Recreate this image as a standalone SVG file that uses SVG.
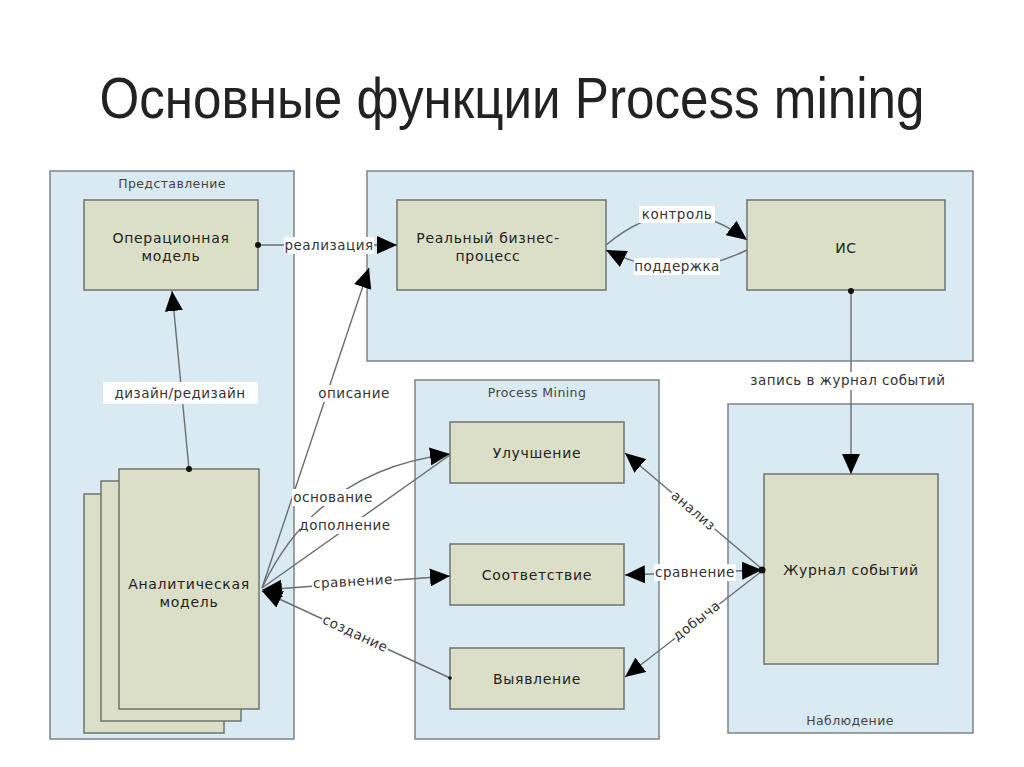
<svg xmlns="http://www.w3.org/2000/svg" width="1024" height="767" viewBox="0 0 1024 767">
<style>
.cont{fill:#daeaf2;stroke:#7d8487;stroke-width:1.5}
.box{fill:#dcdfc7;stroke:#6f7470;stroke-width:1.5}
.bt{font-family:"DejaVu Sans",sans-serif;font-size:14px;letter-spacing:0.7px;fill:#222;text-anchor:middle}
.ct{font-family:"DejaVu Sans",sans-serif;font-size:12.5px;letter-spacing:0.4px;fill:#444;text-anchor:middle}
.lt{font-family:"DejaVu Sans",sans-serif;font-size:13.5px;letter-spacing:0.5px;fill:#333;text-anchor:middle}
.ln{fill:none;stroke:#6a6e70;stroke-width:1.4}
.bg{fill:#ffffff}
.dot{fill:#111}
</style>
<defs>
<marker id="ah" viewBox="0 0 20 18" refX="20" refY="9" markerWidth="20" markerHeight="18" markerUnits="userSpaceOnUse" orient="auto-start-reverse">
<path d="M0,0 L20,9 L0,18 Z" fill="#000"/>
</marker>
</defs>
<rect width="1024" height="767" fill="#ffffff"/>
<text x="512" y="118" font-family="'Liberation Sans',sans-serif" font-size="57" fill="#222" text-anchor="middle" textLength="825" lengthAdjust="spacingAndGlyphs">Основные функции Process mining</text>

<g id="predstavlenie">
<rect class="cont" x="50" y="171" width="244" height="568"/>
<text class="ct" x="172" y="188">Представление</text>
</g>
<g id="top-container">
<rect class="cont" x="367" y="171" width="606" height="190"/>
</g>
<g id="process-mining">
<rect class="cont" x="415" y="380" width="244" height="359"/>
<text class="ct" x="537" y="397">Process Mining</text>
</g>
<g id="nablyudenie">
<rect class="cont" x="728" y="404" width="245" height="329"/>
<text class="ct" x="850" y="725">Наблюдение</text>
</g>

<g id="op-model">
<rect class="box" x="84" y="200" width="174" height="90"/>
<text class="bt" x="171" y="243">Операционная</text>
<text class="bt" x="171" y="261">модель</text>
</g>
<g id="real-process">
<rect class="box" x="397" y="200" width="209" height="90"/>
<text class="bt" x="488" y="243">Реальный бизнес-</text>
<text class="bt" x="488" y="261">процесс</text>
</g>
<g id="is">
<rect class="box" x="747" y="200" width="198" height="90"/>
<text class="bt" x="846" y="253">ИС</text>
</g>
<g id="analytic-model">
<rect class="box" x="84" y="494" width="140" height="239"/>
<rect class="box" x="101" y="481" width="140" height="240"/>
<rect class="box" x="119" y="469" width="140" height="240"/>
<text class="bt" x="189" y="589">Аналитическая</text>
<text class="bt" x="189" y="607">модель</text>
</g>
<g id="uluchshenie">
<rect class="box" x="450" y="422" width="174" height="61"/>
<text class="bt" x="537" y="458">Улучшение</text>
</g>
<g id="sootvetstvie">
<rect class="box" x="450" y="544" width="174" height="61"/>
<text class="bt" x="537" y="580">Соответствие</text>
</g>
<g id="vyyavlenie">
<rect class="box" x="450" y="648" width="174" height="61"/>
<text class="bt" x="537" y="684">Выявление</text>
</g>
<g id="journal">
<rect class="box" x="764" y="474" width="174" height="190"/>
<text class="bt" x="851" y="575">Журнал событий</text>
</g>

<g id="connectors">
<!-- реализация -->
<line class="ln" x1="258" y1="245" x2="397" y2="245" marker-end="url(#ah)"/>
<circle class="dot" cx="258" cy="245" r="3"/>
<rect class="bg" x="284" y="237" width="90" height="17"/>
<text class="lt" x="329" y="250">реализация</text>
<!-- дизайн/редизайн -->
<line class="ln" x1="189" y1="469" x2="172" y2="291" marker-end="url(#ah)"/>
<circle class="dot" cx="189" cy="469" r="3"/>
<rect class="bg" x="103" y="382" width="155" height="22"/>
<text class="lt" x="180" y="398">дизайн/редизайн</text>
<!-- описание -->
<line class="ln" x1="262" y1="588" x2="369" y2="268" marker-end="url(#ah)"/>
<rect class="bg" x="316" y="385" width="76" height="17"/>
<text class="lt" x="354" y="398">описание</text>
<!-- основание -->
<path class="ln" d="M262,588 Q318,470 450,454" marker-end="url(#ah)"/>
<rect class="bg" x="292" y="489" width="82" height="17"/>
<text class="lt" x="333" y="502">основание</text>
<!-- дополнение -->
<line class="ln" x1="262" y1="588" x2="450" y2="455"/>
<rect class="bg" x="300" y="517" width="90" height="17"/>
<text class="lt" x="345" y="530">дополнение</text>
<!-- сравнение left -->
<line class="ln" x1="262" y1="590" x2="450" y2="576" marker-start="url(#ah)" marker-end="url(#ah)"/>
<rect class="bg" x="312" y="573" width="82" height="17" transform="rotate(-3 353 582)"/>
<text class="lt" x="353" y="586" transform="rotate(-3 353 582)">сравнение</text>
<!-- создание -->
<line class="ln" x1="450" y1="678" x2="262" y2="591" marker-end="url(#ah)"/>
<circle class="dot" cx="450" cy="678" r="1.8"/>
<g transform="translate(355,634) rotate(24.8)">
<rect class="bg" x="-36" y="-9" width="72" height="17"/>
<text class="lt" x="0" y="4">создание</text>
</g>
<!-- контроль -->
<path class="ln" d="M606,245 Q676,186 747,240" marker-end="url(#ah)"/>
<rect class="bg" x="639" y="206" width="76" height="17"/>
<text class="lt" x="677" y="219">контроль</text>
<!-- поддержка -->
<path class="ln" d="M747,250 Q676,285 606,250" marker-end="url(#ah)"/>
<rect class="bg" x="634" y="258" width="86" height="17"/>
<text class="lt" x="677" y="271">поддержка</text>
<!-- запись в журнал событий -->
<line class="ln" x1="851" y1="291" x2="851" y2="474" marker-end="url(#ah)"/>
<circle class="dot" cx="851" cy="291" r="3"/>
<rect class="bg" x="737" y="372" width="222" height="18"/>
<text class="lt" x="848" y="385">запись в журнал событий</text>
<!-- анализ -->
<line class="ln" x1="762" y1="569" x2="625" y2="453" marker-end="url(#ah)"/>
<g transform="translate(693,511) rotate(40.3)">
<rect class="bg" x="-28" y="-9" width="56" height="17"/>
<text class="lt" x="0" y="4">анализ</text>
</g>
<!-- сравнение right -->
<line class="ln" x1="762" y1="570" x2="625" y2="575" marker-start="url(#ah)" marker-end="url(#ah)"/>
<rect class="bg" x="654" y="564" width="82" height="17"/>
<text class="lt" x="695" y="577">сравнение</text>
<!-- добыча -->
<line class="ln" x1="762" y1="571" x2="625" y2="677" marker-end="url(#ah)"/>
<g transform="translate(697,621) rotate(-37.7)">
<rect class="bg" x="-28" y="-9" width="56" height="17"/>
<text class="lt" x="0" y="4">добыча</text>
</g>
<circle class="dot" cx="762" cy="570" r="3.5"/>
</g>
</svg>
